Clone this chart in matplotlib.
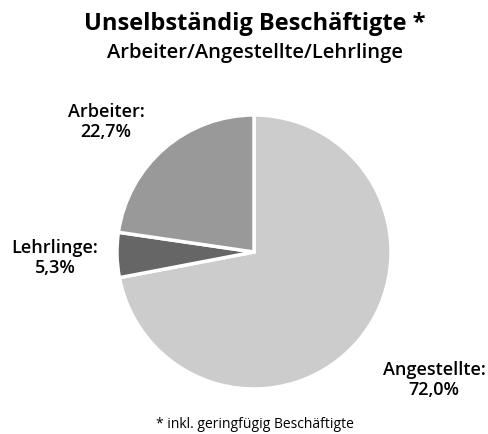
import matplotlib.pyplot as plt

# Anteile der unselbständig Beschäftigten
kategorien = ["Angestellte", "Lehrlinge", "Arbeiter"]
werte = [72.0, 5.3, 22.7]
farben = ["#cccccc", "#666666", "#999999"]
labels = ["Angestellte:\n72,0%", "Lehrlinge:\n5,3%", "Arbeiter:\n22,7%"]

plt.rcParams['font.family'] = ['Open Sans', 'DejaVu Sans']

W, H = 489, 434
fig = plt.figure(figsize=(W / 100, H / 100), dpi=100)

def px(x, y):
    return x / W, 1 - y / H

# Kreis: Mittelpunkt (254, 252), Radius 137
cx, cy, r = 254, 252, 137
ax = fig.add_axes([(cx - r) / W, 1 - (cy + r) / H, 2 * r / W, 2 * r / H])
ax.pie(werte, colors=farben, startangle=90, counterclock=False,
       wedgeprops=dict(edgecolor="white", linewidth=2.5))
ax.set_xlim(-1, 1)
ax.set_ylim(-1, 1)
ax.set_aspect("equal")
ax.axis("off")

fig.text(*px(255, 24), "Unselbständig Beschäftigte *", ha="center", va="center",
         fontsize=17, fontweight="bold")
fig.text(*px(255, 53), "Arbeiter/Angestellte/Lehrlinge", ha="center", va="center",
         fontsize=14.5, fontweight="semibold")

# Beschriftungen
pos = [(434, 380), (55, 258), (106, 122)]
for (x, y), lab in zip(pos, labels):
    fig.text(*px(x, y), lab, ha="center", va="center", fontsize=13,
             fontweight="semibold", linespacing=1.15)

fig.text(*px(255, 425), "* inkl. geringfügig Beschäftigte", ha="center", va="center",
         fontsize=10)

fig.savefig("out.png", dpi=100)
